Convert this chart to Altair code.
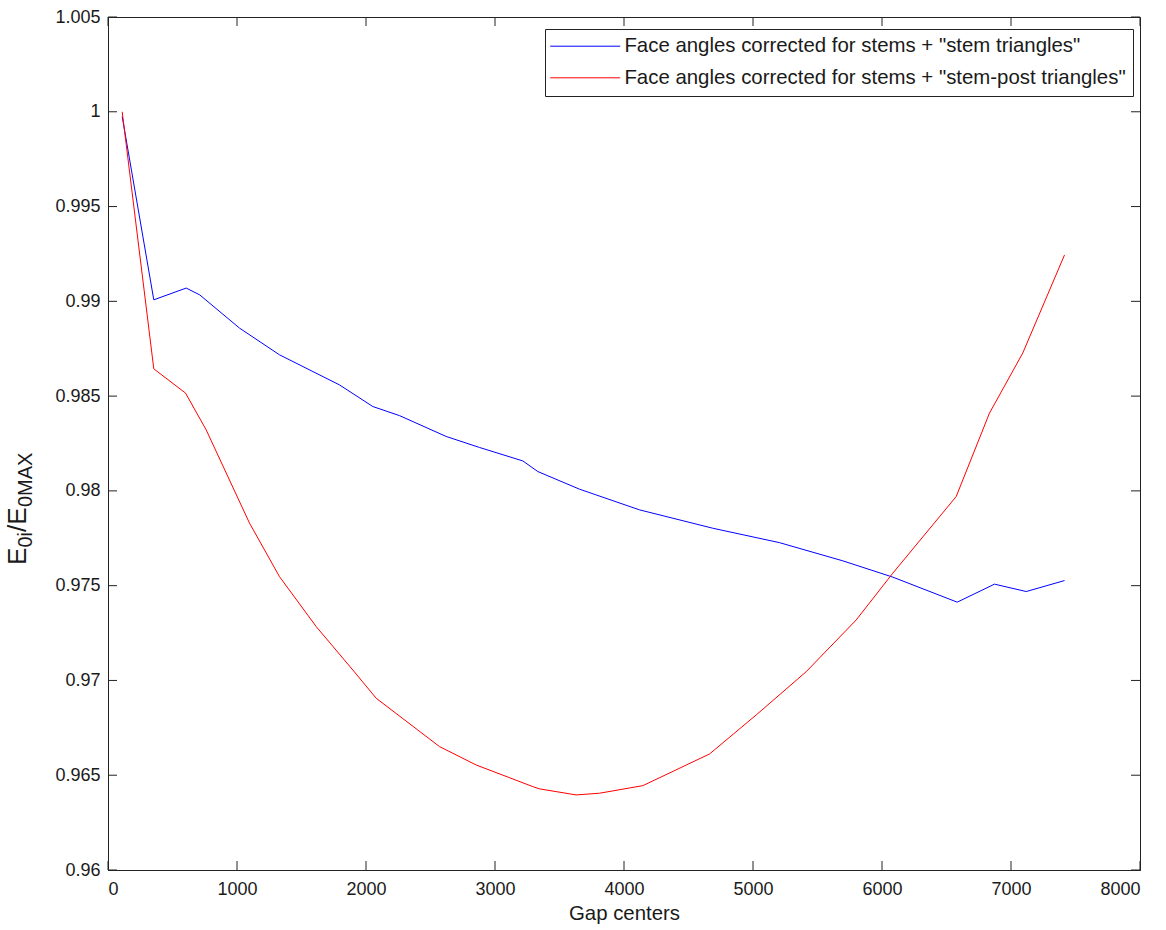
import altair as alt
import pandas as pd

# ---- data ----
blue_label = 'Face angles corrected for stems + "stem triangles"'
red_label = 'Face angles corrected for stems + "stem-post triangles"'

blue_x = [110, 355, 606, 711, 1019, 1329, 1795, 2053, 2260, 2622, 2880, 3216, 3332,
          3655, 4120, 4688, 5205, 5696, 6084, 6583, 6872, 7118, 7415]
blue_y = [0.99975, 0.99008, 0.99070, 0.99034, 0.98859, 0.98718, 0.98559, 0.98445,
          0.98397, 0.98287, 0.98229, 0.98158, 0.98102, 0.98009, 0.97900, 0.97803,
          0.97727, 0.97631, 0.97545, 0.97413, 0.97508, 0.97469, 0.97527]

red_x = [110, 355, 601, 761, 1097, 1329, 1614, 1898, 2079, 2570, 2854, 3293, 3345,
         3629, 3810, 4146, 4663, 5025, 5412, 5800, 6084, 6575, 6833, 7091, 7415]
red_y = [1.0, 0.98644, 0.98516, 0.98322, 0.97830, 0.97548, 0.97284, 0.97055, 0.96906,
         0.96651, 0.96554, 0.96440, 0.96428, 0.96396, 0.96405, 0.96445, 0.96612,
         0.96818, 0.97046, 0.97319, 0.97566, 0.97970, 0.98410, 0.98727, 0.99245]

x_ticks = [0, 1000, 2000, 3000, 4000, 5000, 6000, 7000, 8000]
y_ticks = [0.96, 0.965, 0.97, 0.975, 0.98, 0.985, 0.99, 0.995, 1.0, 1.005]

title_pieces = ["E", "0i", "/E", "0MAX"]

# ---- layout ----
W, H = 1032, 853
FONT = "Liberation Sans"
FS = 18
LFS = 20.4
TXT = "#1a1a1a"
TL = 9

df = pd.concat([
    pd.DataFrame({"x": blue_x, "y": blue_y, "series": blue_label, "o": range(len(blue_x))}),
    pd.DataFrame({"x": red_x, "y": red_y, "series": red_label, "o": range(len(red_x))}),
])

xs = alt.Scale(domain=[0, 8000], nice=False, zero=False)
ys = alt.Scale(domain=[0.96, 1.005], nice=False, zero=False)

lines = alt.Chart(df).mark_line(strokeWidth=1).encode(
    x=alt.X("x:Q", scale=xs, axis=alt.Axis(values=x_ticks, format="d", title="Gap centers",
                                           tickSize=0, labelPadding=10, titlePadding=5,
                                           labelFont=FONT, labelFontSize=FS, labelColor=TXT,
                                           titleFont=FONT, titleFontSize=LFS, titleColor=TXT,
                                           titleFontWeight="normal",
                                           domainColor="#222", grid=False)),
    y=alt.Y("y:Q", scale=ys, axis=alt.Axis(values=y_ticks, format="~g", title=None,
                                           tickSize=0, labelPadding=8,
                                           labelFont=FONT, labelFontSize=FS, labelColor=TXT,
                                           domainColor="#222", grid=False)),
    order="o:Q",
    color=alt.Color("series:N",
                    scale=alt.Scale(domain=[blue_label, red_label], range=["#0000ff", "#ff0000"]),
                    legend=alt.Legend(orient="none", legendX=437, legendY=12, title=None,
                                      symbolType="M-10,0H10", symbolSize=49,
                                      symbolStrokeWidth=1, symbolOffset=23,
                                      labelOffset=29, labelFont=FONT, labelFontSize=LFS,
                                      labelColor=TXT, labelLimit=0, padding=7, rowPadding=10.6,
                                      strokeColor="#222", fillColor="white")),
)

xt = pd.DataFrame({"v": x_ticks})
yt = pd.DataFrame({"v": y_ticks})
tick_style = dict(color="#222", strokeWidth=1)
xb = alt.Chart(xt).mark_rule(**tick_style).encode(x=alt.X("v:Q", scale=xs), y=alt.value(H - TL), y2=alt.value(H))
xtop = alt.Chart(xt).mark_rule(**tick_style).encode(x=alt.X("v:Q", scale=xs), y=alt.value(0), y2=alt.value(TL))
yl = alt.Chart(yt).mark_rule(**tick_style).encode(y=alt.Y("v:Q", scale=ys), x=alt.value(0), x2=alt.value(TL))
yr = alt.Chart(yt).mark_rule(**tick_style).encode(y=alt.Y("v:Q", scale=ys), x=alt.value(W - TL), x2=alt.value(W))

# y-axis title with subscripts, built from pieces
pieces = []
pos = [(548, -82, 26), (530.5, -76, 20), (515, -82, 26), (490, -76, 20)]
for txt, (py, px, fs) in zip(title_pieces, pos):
    pieces.append(alt.Chart(pd.DataFrame({"t": [txt]})).mark_text(
        angle=270, align="left", baseline="alphabetic", font=FONT, fontSize=fs, color=TXT
    ).encode(text="t:N", x=alt.value(px), y=alt.value(py)))

chart = alt.layer(lines, xb, xtop, yl, yr, *pieces).properties(
    width=W, height=H,
    autosize=alt.AutoSizeParams(type="none"),
    padding={"left": 108, "top": 17, "right": 26, "bottom": 60},
    background="white",
).configure_view(stroke="#222", strokeWidth=1)

chart.save("out.html", embed_options={"renderer": "svg", "actions": False})
